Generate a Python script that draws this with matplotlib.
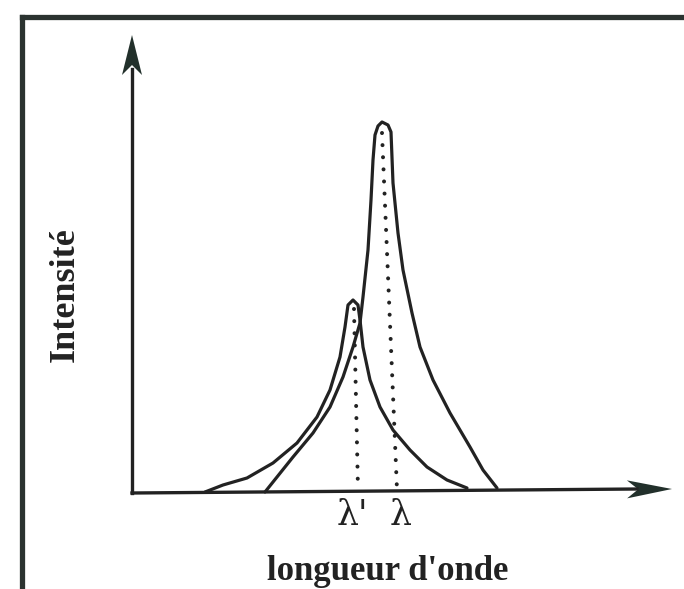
import numpy as np
import matplotlib.pyplot as plt
from matplotlib.lines import Line2D

# spectre principal (lambda), unites arbitraires
big_x = [25.6, 28.0, 31.2, 35.2, 38.6, 41.2, 43.2, 44.6, 45.2, 46.2, 46.8, 47.2, 47.6,
         48.2, 49.0, 50.2, 50.8, 51.2, 52.2, 53.2, 55.0, 56.6, 59.2, 62.6, 66.6, 69.2, 72.0]
big_y = [0.25, 4.0, 9.0, 15.0, 21.5, 29.0, 36.5, 42.5, 49.0, 60.75, 73.25, 83.25, 89.5,
         91.75, 92.75, 92.0, 90.25, 77.5, 65.0, 55.75, 45.0, 36.5, 28.25, 20.0, 11.5, 5.75, 1.25]

# spectre decale (lambda')
small_x = [13.6, 17.2, 22.0, 27.2, 32.0, 36.0, 38.6, 40.6, 41.6, 42.2, 43.2, 44.2, 44.6,
           45.2, 46.6, 48.6, 51.2, 54.6, 58.0, 62.0, 66.0]
small_y = [0.25, 2.0, 3.75, 7.5, 12.5, 19.0, 25.75, 34.0, 41.5, 47.0, 48.25, 47.0, 43.25,
           36.5, 28.25, 21.5, 15.75, 10.75, 6.5, 3.25, 1.25]

# lignes pointillees (haut, bas)
lam_p_x = [43.4, 44.2]
lam_p_y = [46.0, 0.75]
lam_x = [49.0, 52.0]
lam_y = [90.0, 0.75]

labels = ["λ'", "λ"]
label_x = [43.0, 52.8]

ink = '#222222'

fig = plt.figure(figsize=(6.84, 5.89), dpi=100)
ax = fig.add_axes([0, 0, 1, 1])
ax.set_xlim(-27.4, 109.4)
ax.set_ylim(-24, 123.25)
ax.axis('off')

# cadre
fig.add_artist(Line2D([22 / 684, 22 / 684], [0, 1 - 17 / 589], transform=fig.transFigure,
                      color='#2b3330', lw=3.8, solid_capstyle='projecting'))
fig.add_artist(Line2D([22 / 684, 1], [1 - 17 / 589, 1 - 17 / 589], transform=fig.transFigure,
                      color='#2b3330', lw=3.8, solid_capstyle='projecting'))

# axes fleches
ax.plot([-1, -1], [0, 106], color=ink, lw=2.4)
ax.arrow(-1, 100, 0, 14.5, head_width=4.0, head_length=10, length_includes_head=True,
         color='#22302b', lw=0, overhang=0.25)
ax.plot([-1, 100], [0, 1], color=ink, lw=2.4)
ax.arrow(97, 0.9, 10, 0.1, head_width=4.5, head_length=9, length_includes_head=True,
         color='#22302b', lw=0, overhang=0.25)

# courbes
ax.plot(big_x, big_y, color=ink, lw=2.3, solid_joinstyle='round', solid_capstyle='round')
ax.plot(small_x, small_y, color=ink, lw=2.3, solid_joinstyle='round', solid_capstyle='round')

# pointilles
for xs, ys in [(lam_p_x, lam_p_y), (lam_x, lam_y)]:
    ax.plot(xs, ys, color=ink, lw=2.9, linestyle=(0, (0.01, 3.0)), dash_capstyle='round')

for lab, lx in zip(labels, label_x):
    ax.text(lx, -5.6, lab, ha='center', va='center', fontsize=25, family='DejaVu Serif',
            color=ink)

ax.text(50.2, -19.6, "longueur d'onde", ha='center', va='center', fontsize=25,
        family='Liberation Serif', weight='bold', color=ink)
ax.text(-14.4, 49.5, "Intensité", ha='center', va='center', fontsize=26, rotation=90,
        family='Liberation Serif', weight='bold', color=ink)

fig.savefig('out.png', dpi=100)
